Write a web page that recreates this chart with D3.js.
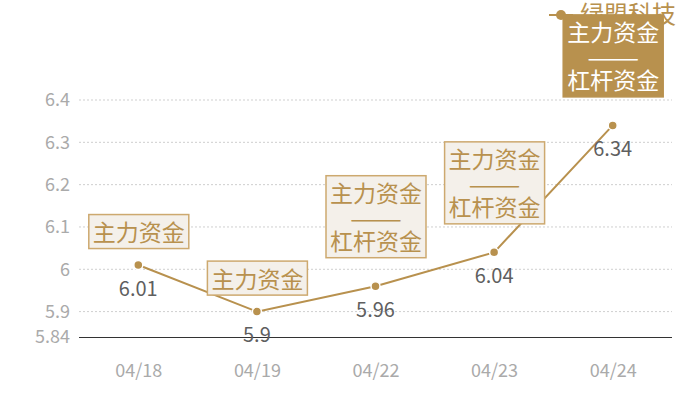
<!DOCTYPE html>
<html>
<head>
<meta charset="utf-8">
<script src="https://cdn.jsdelivr.net/npm/d3@7"></script>
<style>
  body { margin: 0; background: #fff; }
  svg { font-family: "Noto Sans CJK SC", "Noto Sans", sans-serif; }
</style>
</head>
<body>
<div id="chart"></div>
<script>
var dates = ["04/18", "04/19", "04/22", "04/23", "04/24"];
var prices = [6.01, 5.9, 5.96, 6.04, 6.34];
var notes = [
  ["主力资金"],
  ["主力资金"],
  ["主力资金", "——", "杠杆资金"],
  ["主力资金", "——", "杠杆资金"],
  ["主力资金", "——", "杠杆资金"]
];
var yTicks = [5.84, 5.9, 6, 6.1, 6.2, 6.3, 6.4];
var seriesName = "绿盟科技";
var activeIndex = 4;

var width = 700,
    height = 400,
    gold = "#b8914e";

var x = d3.scalePoint()
    .domain(dates)
    .range([79, 672])
    .padding(0.5);

var y = d3.scaleLinear()
    .domain([5.84, 6.4])
    .range([337, 100]);

var svg = d3.select("#chart").append("svg")
    .attr("width", width)
    .attr("height", height);

// grid lines
svg.append("g").selectAll("line")
    .data(yTicks.filter(function(d) { return d !== 5.84; }))
  .enter().append("line")
    .attr("x1", 79)
    .attr("x2", 672)
    .attr("y1", function(d) { return y(d); })
    .attr("y2", function(d) { return y(d); })
    .attr("stroke", "#cfcfcf")
    .attr("stroke-dasharray", "2,2");

// y axis labels
var yAxis = d3.axisLeft(y)
    .tickValues(yTicks)
    .tickFormat(function(d) { return String(d); })
    .tickSize(0)
    .tickPadding(9);

svg.append("g")
    .attr("transform", "translate(79,0)")
    .call(yAxis)
    .call(function(g) { g.select(".domain").remove(); })
    .selectAll("text")
    .attr("font-size", 18)
    .attr("fill", "#aaa")
    .attr("font-family", "'Noto Sans CJK SC', sans-serif");

// x axis
var xAxis = d3.axisBottom(x).tickSize(0).tickPadding(27);

svg.append("g")
    .attr("transform", "translate(0," + y(5.84) + ")")
    .call(xAxis)
    .call(function(g) {
      g.select(".domain").attr("stroke", "#333").attr("d", "M79,0.5H672");
    })
    .selectAll("text")
    .attr("font-size", 18)
    .attr("fill", "#aaa")
    .attr("font-family", "'Noto Sans CJK SC', sans-serif");

// price line
var line = d3.line()
    .x(function(d, i) { return x(dates[i]); })
    .y(function(d) { return y(d); });

svg.append("path")
    .datum(prices)
    .attr("d", line)
    .attr("fill", "none")
    .attr("stroke", gold)
    .attr("stroke-width", 2);

svg.append("g").selectAll("circle")
    .data(prices)
  .enter().append("circle")
    .attr("cx", function(d, i) { return x(dates[i]); })
    .attr("cy", function(d) { return y(d); })
    .attr("r", 4.5)
    .attr("fill", gold)
    .attr("stroke", "#fff")
    .attr("stroke-width", 1.5);

svg.append("g").selectAll("text")
    .data(prices)
  .enter().append("text")
    .attr("x", function(d, i) { return x(dates[i]); })
    .attr("y", function(d) { return y(d) + 22; })
    .attr("text-anchor", "middle")
    .attr("dominant-baseline", "central")
    .attr("font-size", 20)
    .attr("fill", "#5f5f5f")
    .text(function(d) { return String(d); });

// legend
var legend = svg.append("g");
legend.append("line")
    .attr("x1", 549).attr("x2", 573)
    .attr("y1", 15).attr("y2", 15)
    .attr("stroke", gold)
    .attr("stroke-width", 2);
legend.append("circle")
    .attr("cx", 561).attr("cy", 15).attr("r", 5)
    .attr("fill", gold);
legend.append("text")
    .attr("x", 580).attr("y", 12)
    .attr("dominant-baseline", "central")
    .attr("font-size", 24)
    .attr("fill", gold)
    .text(seriesName);

// annotation boxes
var lineH = 24, boxW = 100;
var boxes = svg.append("g").selectAll("g")
    .data(notes)
  .enter().append("g")
    .attr("transform", function(d, i) {
      var h = d.length * lineH + 10;
      var gap = d.length > 1 ? 29 : 17;
      var bx = x(dates[i]) - boxW / 2;
      var by = y(prices[i]) - gap - h;
      return "translate(" + bx + "," + by + ")";
    });

boxes.append("rect")
    .attr("x", 0.5).attr("y", 0.5)
    .attr("width", boxW)
    .attr("height", function(d) { return d.length * lineH + 10; })
    .attr("fill", function(d, i) { return i === activeIndex ? gold : "#f4f0ea"; })
    .attr("stroke", function(d, i) { return i === activeIndex ? gold : "#cda96f"; })
    .attr("stroke-width", 1.5);

boxes.each(function(d, i) {
  d3.select(this).selectAll("text")
      .data(d)
    .enter().append("text")
      .attr("x", boxW / 2 + 0.5)
      .attr("y", function(t, j) { return 5 + lineH / 2 + j * lineH + (j === 1 ? 1 : 0); })
      .attr("text-anchor", "middle")
      .attr("dominant-baseline", "central")
      .attr("font-size", 23)
      .attr("fill", i === activeIndex ? "#fff" : gold)
      .each(function(t) {
        if (t === "——") {
          d3.select(this).attr("textLength", 52).attr("lengthAdjust", "spacingAndGlyphs");
        }
      })
      .text(function(t) { return t; });
});
</script>
</body>
</html>
